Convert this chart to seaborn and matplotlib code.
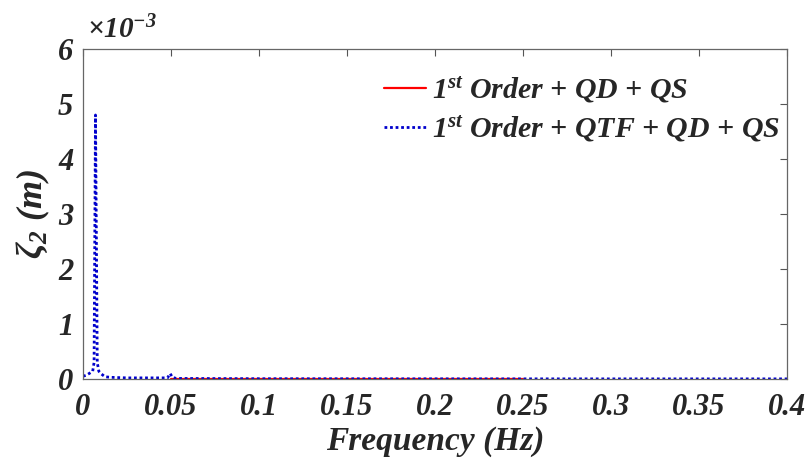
import matplotlib
matplotlib.use("Agg")
import matplotlib.pyplot as plt
import seaborn as sns
import numpy as np

# Data (values in metres)
red_freq = [0.05, 0.1, 0.15, 0.2, 0.25]
red_vals = [0.00000002, 0.00000002, 0.00000002, 0.00000002, 0.00000002]

blue_freq = [0.0, 0.002, 0.004, 0.0055, 0.0063, 0.0071, 0.0081, 0.009, 0.0105,
             0.0125, 0.016, 0.025, 0.048, 0.0495, 0.0508, 0.053, 0.1, 0.2, 0.3, 0.4]
blue_vals_e3 = [0.05, 0.07, 0.11, 0.14, 0.3, 4.8, 0.3, 0.14, 0.09,
                0.04, 0.03, 0.02, 0.02, 0.1, 0.03, 0.01, 0.005, 0.003, 0.002, 0.002]
blue_vals = [v * 1e-3 for v in blue_vals_e3]

xticks = [0, 0.05, 0.1, 0.15, 0.2, 0.25, 0.3, 0.35, 0.4]
xtick_labels = ["0", "0.05", "0.1", "0.15", "0.2", "0.25", "0.3", "0.35", "0.4"]
yticks = [0, 1e-3, 2e-3, 3e-3, 4e-3, 5e-3, 6e-3]
ytick_labels = ["0", "1", "2", "3", "4", "5", "6"]

label_red = r"$1^{st}$ Order + QD + QS"
label_blue = r"$1^{st}$ Order + QTF + QD + QS"

sns.set_style("white")
plt.rcParams["font.family"] = ["Liberation Serif", "DejaVu Serif"]
plt.rcParams["font.weight"] = "bold"
plt.rcParams["font.style"] = "italic"
plt.rcParams["mathtext.fontset"] = "custom"
plt.rcParams["mathtext.rm"] = "Liberation Serif:italic:bold"
plt.rcParams["mathtext.it"] = "Liberation Serif:italic:bold"
plt.rcParams["mathtext.bf"] = "Liberation Serif:italic:bold"

fig = plt.figure(figsize=(8.09, 4.65), dpi=100)
ax = fig.add_axes([83/809, 1 - 379/465, (787-83)/809, (379-49)/465])

sns.lineplot(x=red_freq, y=red_vals, ax=ax, color="#ff0000", linewidth=1.6,
             label=label_red, sort=False)
sns.lineplot(x=blue_freq, y=blue_vals, ax=ax, color="#0000cc", linewidth=2.0,
             linestyle=(0, (1, 1)), label=label_blue, sort=False)

ax.set_xlim(0, 0.4)
ax.set_ylim(0, 6e-3)
ax.set_xticks(xticks)
ax.set_xticklabels(xtick_labels)
ax.set_yticks(yticks)
ax.set_yticklabels(ytick_labels)
ax.tick_params(direction="in", length=5, width=0.8, color="#555555",
               top=True, right=True, labelsize=22)
ax.tick_params(axis="x", pad=10)
ax.tick_params(axis="y", pad=7)
for lab in ax.get_xticklabels() + ax.get_yticklabels():
    lab.set_fontweight("bold")
    lab.set_fontstyle("italic")
for sp in ax.spines.values():
    sp.set_visible(True)
    sp.set_color("#666666")
    sp.set_linewidth(0.9)

ax.set_xlabel("Frequency (Hz)", fontsize=24, fontweight="bold", fontstyle="italic", labelpad=3)
ax.set_ylabel(r"$\zeta_2$ (m)", fontsize=26, fontweight="bold", fontstyle="italic", labelpad=4)

fig.text(87/809, 1 - 30/465, r"$\times 10^{-3}$", fontsize=21, va="center", ha="left",
         fontstyle="italic", fontweight="bold")

leg = ax.legend(loc="upper right", frameon=False, fontsize=21.5, handlelength=1.4,
                handletextpad=0.2, borderaxespad=0.2, labelspacing=0.3,
                bbox_to_anchor=(1.015, 0.975))
for t in leg.get_texts():
    t.set_fontweight("bold")
    t.set_fontstyle("italic")

fig.savefig("out.png", dpi=100)
